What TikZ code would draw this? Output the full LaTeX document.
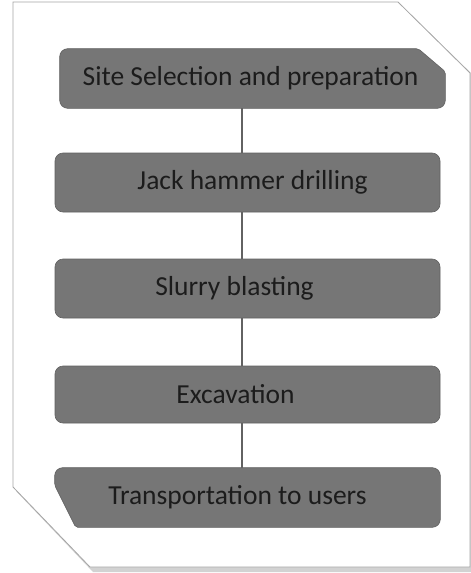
\documentclass[tikz,border=0pt]{standalone}
\usepackage{fontspec}
\setmainfont{Carlito}
\usetikzlibrary{backgrounds}

\definecolor{boxgray}{RGB}{118,118,118}
\definecolor{boxline}{RGB}{98,98,98}
\definecolor{inktext}{RGB}{28,28,28}
\definecolor{frameline}{RGB}{165,165,165}

\tikzset{
  stagebox/.style={fill=boxgray, draw=boxline, line width=0.6pt, rounded corners=8pt,
    minimum width=385pt, minimum height=59pt, inner sep=0pt},
  snipbox/.style={stagebox, fill=none, draw=none},
  caption/.style={text=inktext, inner sep=0pt, font=\fontsize{27.5}{32}\selectfont},
  link/.style={draw=boxline, line width=1.5pt},
}

\begin{document}
\begin{tikzpicture}[x=1pt, y=-1pt]
  \useasboundingbox (0,0) rectangle (471,573);

  % page with two snipped corners
  \begin{scope}[on background layer]
    \fill[white] (0,0) rectangle (471,573);
    \fill[gray!35] (16,5) -- (401,5) -- (474,76) -- (474,572) -- (93,572) -- (16,491) -- cycle;
    \filldraw[fill=white, draw=frameline, line width=0.8pt]
      (13,2) -- (398,2) -- (470,73) -- (470,567) -- (90,567) -- (13,487) -- cycle;
  \end{scope}

  \node[snipbox, label={[caption, xshift=-2pt]center:Site Selection and preparation}] (s1) at (252.5,78.5) {};
  \node[stagebox, label={[caption, xshift=5pt]center:Jack hammer drilling}] (s2) at (247.5,182.5) {};
  \node[stagebox, label={[caption, xshift=-13pt]center:Slurry blasting}] (s3) at (247.5,288.5) {};
  \node[stagebox, minimum height=57pt, label={[caption, xshift=-12pt]center:Excavation}] (s4) at (247.5,394.5) {};
  \node[snipbox, label={[caption, xshift=-10pt]center:Transportation to users}] (s5) at (247.5,497.5) {};

  % snipped boxes
  \begin{scope}[on background layer]
    \filldraw[fill=boxgray, draw=boxline, line width=0.6pt, rounded corners=8pt]
      (s1.south west) -- (s1.north west) [rounded corners=2pt] -- ([xshift=-27pt]s1.north east)
      -- ([yshift=-23pt]s1.north east) [rounded corners=8pt] -- (s1.south east) -- cycle;
    \filldraw[fill=boxgray, draw=boxline, line width=0.6pt, rounded corners=8pt]
      (s5.north east) -- (s5.south east) [rounded corners=2pt] -- ([xshift=21pt]s5.south west)
      -- ([yshift=42pt]s5.south west) [rounded corners=8pt] -- (s5.north west) -- cycle;
  \end{scope}

  \coordinate (spine) at (242,0);
  \draw[link] (s1.south -| spine) -- (s2.north -| spine);
  \draw[link] (s2.south -| spine) -- (s3.north -| spine);
  \draw[link] (s3.south -| spine) -- (s4.north -| spine);
  \draw[link] (s4.south -| spine) -- (s5.north -| spine);
\end{tikzpicture}
\end{document}
